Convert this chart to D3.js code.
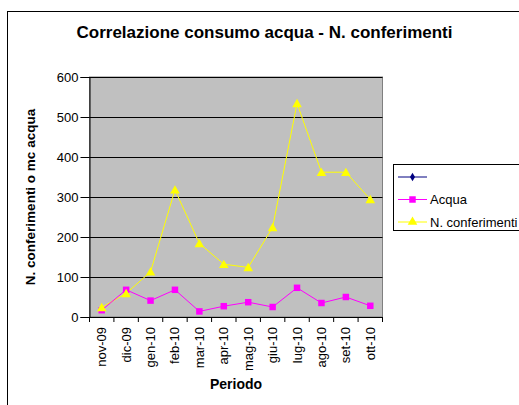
<!DOCTYPE html>
<html>
<head>
<meta charset="utf-8">
<script src="https://cdn.jsdelivr.net/npm/d3@7"></script>
<style>
  body { margin: 0; background: #fff; }
  svg { display: block; font-family: Arial, "Liberation Sans", sans-serif; }
</style>
</head>
<body>
<div id="chart"></div>
<script>
// data
var periodi = ["nov-09", "dic-09", "gen-10", "feb-10", "mar-10", "apr-10", "mag-10", "giu-10", "lug-10", "ago-10", "set-10", "ott-10"];
var acqua = [17, 68, 41, 68, 14, 27, 37, 25, 73, 35, 50, 28];
var conferimenti = [24, 59, 113, 318, 184, 132, 124, 224, 534, 362, 362, 294];
var yTicks = [0, 100, 200, 300, 400, 500, 600];

var W = 519, H = 405;
var plot = { left: 89.5, top: 77, right: 382.5, bottom: 317 };
var FONT = "Arial, 'Liberation Sans', sans-serif";

var svg = d3.select("#chart").append("svg")
  .attr("width", W)
  .attr("height", H);

// outer chart frame (runs off the right/bottom edge)
svg.append("rect")
  .attr("x", 7.5).attr("y", 11.5)
  .attr("width", 530).attr("height", 420)
  .attr("fill", "#fff")
  .attr("stroke", "#000").attr("stroke-width", 1);

svg.append("text")
  .attr("x", 264.5).attr("y", 38)
  .attr("text-anchor", "middle")
  .attr("font-size", 17).attr("font-weight", "bold")
  .text("Correlazione consumo acqua - N. conferimenti");

var x = d3.scaleBand().domain(periodi).range([plot.left, plot.right]);
var y = d3.scaleLinear().domain([0, 600]).range([plot.bottom, plot.top]);

// plot background
svg.append("rect")
  .attr("x", plot.left).attr("y", plot.top)
  .attr("width", plot.right - plot.left).attr("height", plot.bottom - plot.top)
  .attr("fill", "#c0c0c0")
  .attr("stroke", "#808080");

// gridlines
svg.append("g")
  .selectAll("line")
  .data(yTicks.filter(function(d) { return d > 0; }))
  .enter().append("line")
  .attr("x1", plot.left).attr("x2", plot.right)
  .attr("y1", function(d) { return Math.round(y(d)) + 0.5; })
  .attr("y2", function(d) { return Math.round(y(d)) + 0.5; })
  .attr("stroke", "#000");

// y axis
var yAxis = svg.append("g")
  .attr("transform", "translate(" + plot.left + ",0)")
  .call(d3.axisLeft(y).tickValues(yTicks).tickSize(9).tickPadding(2));
yAxis.select(".domain").attr("stroke", "#000");
yAxis.selectAll("text").attr("font-size", 13).attr("font-family", FONT);

// x axis
var xAxis = svg.append("g")
  .attr("transform", "translate(0," + plot.bottom + ")")
  .call(d3.axisBottom(x).tickSize(0).tickFormat(""));
xAxis.select(".domain").attr("stroke", "#000");
xAxis.selectAll(".sep")
  .data(d3.range(periodi.length + 1))
  .enter().append("line")
  .attr("class", "sep")
  .attr("x1", function(i) { return plot.left + x.step() * i; })
  .attr("x2", function(i) { return plot.left + x.step() * i; })
  .attr("y1", 0).attr("y2", 5)
  .attr("stroke", "#000");

svg.append("g")
  .selectAll("text")
  .data(periodi)
  .enter().append("text")
  .attr("transform", function(d) {
    return "translate(" + (x(d) + x.bandwidth() / 2 + 4.5) + "," + (plot.bottom + 10) + ") rotate(-90)";
  })
  .attr("text-anchor", "end")
  .attr("font-size", 13)
  .text(function(d) { return d; });

// axis titles
svg.append("text")
  .attr("transform", "translate(35," + (plot.top + plot.bottom) / 2 + ") rotate(-90)")
  .attr("text-anchor", "middle")
  .attr("font-size", 13.5).attr("font-weight", "bold")
  .text("N. conferimenti o mc acqua");

svg.append("text")
  .attr("x", (plot.left + plot.right) / 2).attr("y", 389)
  .attr("text-anchor", "middle")
  .attr("font-size", 14).attr("font-weight", "bold")
  .text("Periodo");

// series
var cx = function(d, i) { return x(periodi[i]) + x.bandwidth() / 2; };
var line = d3.line()
  .x(cx)
  .y(function(d) { return y(d); });

svg.append("path").datum(conferimenti)
  .attr("d", line).attr("fill", "none").attr("stroke", "#ffff00").attr("stroke-width", 1);
svg.append("path").datum(acqua)
  .attr("d", line).attr("fill", "none").attr("stroke", "#ff00ff").attr("stroke-width", 1);

var tri = d3.symbol().type(d3.symbolTriangle).size(40);
var sq = d3.symbol().type(d3.symbolSquare).size(42);

svg.append("g").selectAll("path")
  .data(acqua).enter().append("path")
  .attr("d", sq)
  .attr("transform", function(d, i) { return "translate(" + cx(d, i) + "," + y(d) + ")"; })
  .attr("fill", "#ff00ff");

svg.append("g").selectAll("path")
  .data(conferimenti).enter().append("path")
  .attr("d", tri)
  .attr("transform", function(d, i) { return "translate(" + cx(d, i) + "," + (y(d) + 1) + ")"; })
  .attr("fill", "#ffff00");

// legend
var legend = svg.append("g");
legend.append("rect")
  .attr("x", 393.5).attr("y", 164.5)
  .attr("width", 140).attr("height", 66)
  .attr("fill", "#fff").attr("stroke", "#000");

var legendItems = [
  { name: "", color: "#000080", sym: d3.symbol().type(d3.symbolDiamond).size(22) },
  { name: "Acqua", color: "#ff00ff", sym: sq },
  { name: "N. conferimenti", color: "#ffff00", sym: tri }
];
legendItems.forEach(function(d, i) {
  var ly = 177 + i * 22.5;
  legend.append("line")
    .attr("x1", 398).attr("x2", 427)
    .attr("y1", ly).attr("y2", ly)
    .attr("stroke", d.color);
  legend.append("path")
    .attr("d", d.sym)
    .attr("transform", "translate(412.5," + ly + ")")
    .attr("fill", d.color);
  legend.append("text")
    .attr("x", 430).attr("y", ly + 4.5)
    .attr("font-size", 13)
    .text(d.name);
});
</script>
</body>
</html>
